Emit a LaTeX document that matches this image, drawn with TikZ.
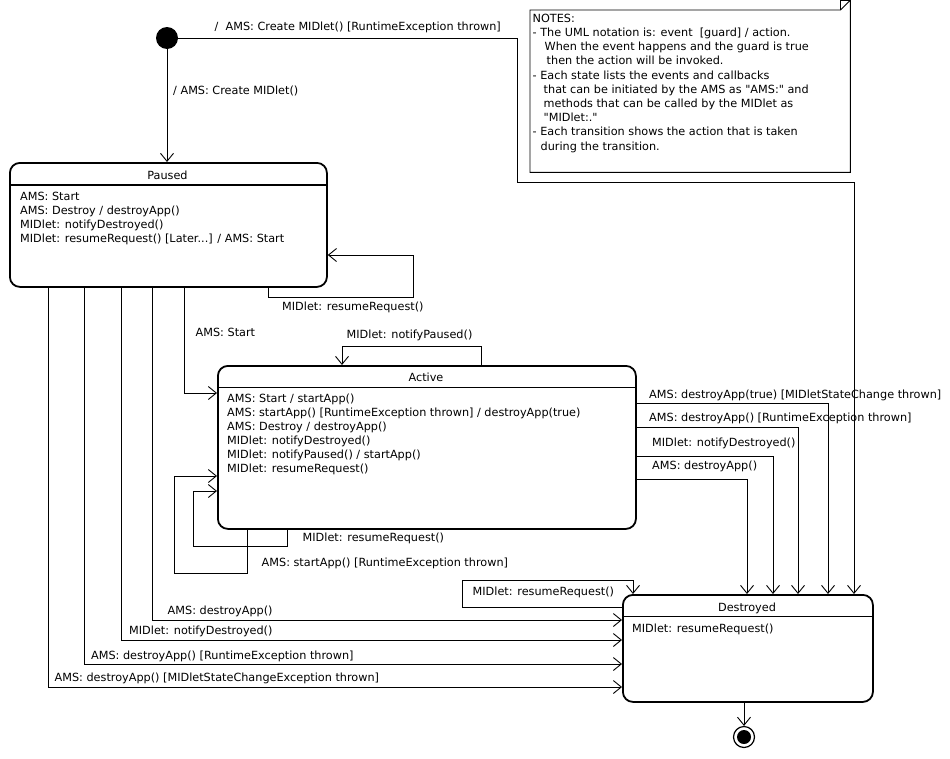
\documentclass[tikz,border=0pt]{standalone}
\usepackage{fontspec}
\newfontfamily\dvs{DejaVu Sans}
\usetikzlibrary{arrows.meta}
\begin{document}
\begin{tikzpicture}[x=1pt,y=-1pt,
  every node/.style={font={\dvs\fontsize{11.25}{14}\selectfont}, inner sep=0pt},
  wire/.style={draw, line width=0.9pt},
  conn/.style={draw, line width=0.9pt, -{Straight Barb[length=8pt,width=13pt]}},
  statebox/.style={draw, line width=1.8pt, rounded corners=10pt, anchor=north west},
  sep/.style={draw, line width=1.2pt},
  lbl/.style={anchor=base west},
  ttl/.style={anchor=base},
  comp/.style={anchor=north west, align=left},
  pseudo/.style={circle, fill=black, inner sep=0pt},
]
\useasboundingbox (0,0) rectangle (950,758);

% ---- states ----
\node[statebox, minimum width=317pt, minimum height=124pt] (paused) at (9,162) {};
\node[ttl] (pausedT) at (167.5,179) {Paused};
\draw[sep] (paused.west |- 0,185) -- (paused.east |- 0,185);
\node[comp] (pausedC) at (20,190.2) {\strut AMS: Start\\AMS: Destroy / destroyApp()\\MIDlet: notifyDestroyed()\\MIDlet: resumeRequest() [Later...] / AMS: Start};

\node[statebox, minimum width=418pt, minimum height=163pt] (active) at (217,365) {};
\node[ttl] (activeT) at (426,381.7) {Active};
\draw[sep] (active.west |- 0,387.3) -- (active.east |- 0,387.3);
\node[comp] (activeC) at (227,392.5) {\strut AMS: Start / startApp()\\AMS: startApp() [RuntimeException thrown] / destroyApp(true)\\AMS: Destroy / destroyApp()\\MIDlet: notifyDestroyed()\\MIDlet: notifyPaused() / startApp()\\MIDlet: resumeRequest()};

\node[statebox, minimum width=250pt, minimum height=107pt] (destroyed) at (622,594) {};
\node[ttl] (destroyedT) at (747,611.7) {Destroyed};
\draw[sep] (destroyed.west |- 0,616.7) -- (destroyed.east |- 0,616.7);
\node[comp] (destroyedC) at (632,622.5) {\strut MIDlet: resumeRequest()};

% ---- pseudo states ----
\node[pseudo, minimum size=22pt] (init) at (167,38) {};
\node[circle, draw, line width=1.2pt, minimum size=21pt, inner sep=0pt] (final) at (744,737) {};
\node[pseudo, minimum size=14pt] (finalIn) at (744,737) {};

% ---- note ----
\node[anchor=north west, minimum width=320pt, minimum height=162pt] (note) at (530,10) {};
\draw[wire] (note.north west) -- ([xshift=-10pt]note.north east) -- ([yshift=10pt]note.north east) -- (note.south east) -- (note.south west) -- cycle;
\draw[wire] ([xshift=-10pt]note.north east) -- ([xshift=-10pt,yshift=10pt]note.north east) -- ([yshift=10pt]note.north east);
\node[comp, font={\dvs\fontsize{11.25}{14.2}\selectfont}] (noteT) at (532.5,12.2) {\strut NOTES:\\
- The UML notation is: event\ \ [guard] / action.\\
\hspace*{12pt}When the event happens and the guard is true\\
\hspace*{14pt}then the action will be invoked.\\
- Each state lists the events and callbacks\\
\hspace*{11pt}that can be initiated by the AMS as "AMS:" and\\
\hspace*{11pt}methods that can be called by the MIDlet as\\
\hspace*{11pt}"MIDlet:."\\
- Each transition shows the action that is taken\\
\hspace*{8pt}during the transition.};

% ---- transitions ----
\draw[conn] (init.south) -- (init.south |- paused.north);
\node[lbl] (l1) at (173,94) {/ AMS: Create MIDlet()};

\draw[conn] (init.east) -| (517,182) -| (854,0 |- destroyed.north);
\node[lbl] (l2) at (214.5,30) {/\ \ AMS: Create MIDlet() [RuntimeException thrown]};

\draw[conn] (268,0 |- paused.south) |- (413,297) |- (paused.east |- 0,255);
\node[lbl] (l3) at (282,310.7) {MIDlet: resumeRequest()};

\draw[conn] (184,0 |- paused.south) |- (active.west |- 0,393);
\node[lbl] (l4) at (195.5,336.7) {AMS: Start};

\draw[conn] (152,0 |- paused.south) |- (destroyed.west |- 0,620);
\node[lbl] (l5) at (167.5,614.7) {AMS: destroyApp()};
\draw[conn] (121,0 |- paused.south) |- (destroyed.west |- 0,640);
\node[lbl] (l6) at (129,634.7) {MIDlet: notifyDestroyed()};
\draw[conn] (84.5,0 |- paused.south) |- (destroyed.west |- 0,664);
\node[lbl] (l7) at (91,659) {AMS: destroyApp() [RuntimeException thrown]};
\draw[conn] (48,0 |- paused.south) |- (destroyed.west |- 0,687);
\node[lbl] (l8) at (54.5,681.3) {AMS: destroyApp() [MIDletStateChangeException thrown]};

\draw[conn] (481,0 |- active.north) |- (342,346) -- (342,0 |- active.north);
\node[lbl] (l9) at (346.5,338.3) {MIDlet: notifyPaused()};

\draw[conn] (287,0 |- active.south) |- (193,546) |- (active.west |- 0,491);
\node[lbl] (l10) at (302.5,541.3) {MIDlet: resumeRequest()};
\draw[conn] (247,0 |- active.south) |- (174,573) |- (active.west |- 0,476);
\node[lbl] (l11) at (261.5,566.7) {AMS: startApp() [RuntimeException thrown]};

\draw[conn] (active.east |- 0,403) -| (828,0 |- destroyed.north);
\node[lbl] (l12) at (649,398) {AMS: destroyApp(true) [MIDletStateChange thrown]};
\draw[conn] (active.east |- 0,427) -| (798,0 |- destroyed.north);
\node[lbl] (l13) at (649,421) {AMS: destroyApp() [RuntimeException thrown]};
\draw[conn] (active.east |- 0,456) -| (773,0 |- destroyed.north);
\node[lbl] (l14) at (652,446) {MIDlet: notifyDestroyed()};
\draw[conn] (active.east |- 0,479) -| (747,0 |- destroyed.north);
\node[lbl] (l15) at (652,469) {AMS: destroyApp()};

\draw[conn] (destroyed.west |- 0,607) -| (462,580) -| (633,0 |- destroyed.north);
\node[lbl] (l16) at (472.5,595.7) {MIDlet: resumeRequest()};

\draw[conn] (744,0 |- destroyed.south) -- (final.north);
\end{tikzpicture}
\end{document}
